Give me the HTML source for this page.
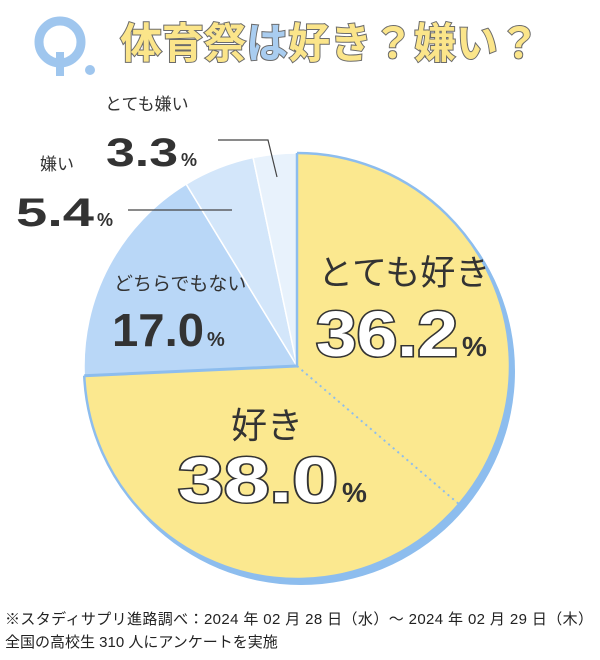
<!DOCTYPE html>
<html><head><meta charset="utf-8"><style>
body{margin:0;width:600px;height:660px;background:#fff;overflow:hidden;font-family:"Liberation Sans","Noto Sans CJK JP",sans-serif}
svg{display:block}
</style></head><body>
<svg width="600" height="660" viewBox="0 0 600 660">
<g>
<circle cx="60" cy="42" r="21" fill="none" stroke="#9fc6ee" stroke-width="9"/>
<rect x="56" y="52" width="8" height="24" fill="#9fc6ee"/>
<circle cx="90" cy="70" r="5" fill="#9fc6ee"/>
<text x="120" y="58" font-size="42" font-weight="bold" fill="#fbe58a" stroke="#6b6b6b" stroke-width="2" paint-order="stroke" font-family="'Noto Sans CJK JP',sans-serif" textLength="420">体育祭<tspan fill="#a9cdf0">は</tspan>好き？嫌い？</text>
</g>
<g id="pie"></g>
<g stroke="#444" stroke-width="1.2" fill="none">
<polyline points="218,140 268,140 277,177"/>
<line x1="128" y1="210" x2="232" y2="210"/>
</g>
<g font-family="'Noto Sans CJK JP',sans-serif" fill="#333">
<text x="105" y="110" font-size="17">とても嫌い</text>
<text x="106" y="166" font-size="40" font-weight="bold" font-family="'Liberation Sans',sans-serif"><tspan textLength="72" lengthAdjust="spacingAndGlyphs">3.3</tspan><tspan font-size="18" dx="3">%</tspan></text>
<text x="40" y="170" font-size="17">嫌い</text>
<text x="16" y="226" font-size="40" font-weight="bold" font-family="'Liberation Sans',sans-serif"><tspan textLength="78" lengthAdjust="spacingAndGlyphs">5.4</tspan><tspan font-size="18" dx="3">%</tspan></text>
<text x="114" y="290" font-size="19">どちらでもない</text>
<text x="112" y="346" font-size="46" font-weight="bold" font-family="'Liberation Sans',sans-serif"><tspan textLength="92" lengthAdjust="spacingAndGlyphs">17.0</tspan><tspan font-size="20" dx="3">%</tspan></text>
<text x="318" y="285" font-size="35">とても好き</text>
<text x="316" y="356" font-size="64" font-weight="bold" fill="#fff" stroke="#333" stroke-width="3" paint-order="stroke" font-family="'Liberation Sans',sans-serif"><tspan textLength="142" lengthAdjust="spacingAndGlyphs">36.2</tspan><tspan font-size="28" fill="#333" stroke="none" dx="4">%</tspan></text>
<text x="231" y="438" font-size="36">好き</text>
<text x="178" y="502" font-size="64" font-weight="bold" fill="#fff" stroke="#333" stroke-width="3" paint-order="stroke" font-family="'Liberation Sans',sans-serif"><tspan textLength="160" lengthAdjust="spacingAndGlyphs">38.0</tspan><tspan font-size="28" fill="#333" stroke="none" dx="4">%</tspan></text>
</g>
<g font-size="15" fill="#222">
<text x="5" y="624" textLength="588">※スタディサプリ進路調べ：2024 年 02 月 28 日（水）～ 2024 年 02 月 29 日（木）</text>
<text x="5" y="647">全国の高校生 310 人にアンケートを実施</text>
</g>
</svg>
<script>
const categories=["とても好き","好き","どちらでもない","嫌い","とても嫌い"];
const values=[36.2,38.0,17.0,5.4,3.3];
const colors=["#fbe88f","#fbe88f","#b9d7f7","#d3e6fa","#e8f2fc"];
const slugs=["very-like","like","neutral","dislike","very-dislike"];
const cx=297,cy=366,r=213;
const g=document.getElementById('pie');
const NS="http://www.w3.org/2000/svg";
const total=values.reduce((a,b)=>a+b,0);
function pt(a,rr){return [cx+rr*Math.sin(a),cy-rr*Math.cos(a)];}
const sh=document.createElementNS(NS,'circle');
sh.setAttribute('cx',cx+4);sh.setAttribute('cy',cy+5);sh.setAttribute('r',r+1);sh.setAttribute('fill','#8dbdee');


g.appendChild(sh);
let a=0;const angles=[];
values.forEach((v,i)=>{
 const a2=a+v/total*2*Math.PI;
 const p1=pt(a,r),p2=pt(a2,r);
 const p=document.createElementNS(NS,'path');
 p.setAttribute('d',`M${cx},${cy}L${p1[0]},${p1[1]}A${r},${r} 0 ${a2-a>Math.PI?1:0} 1 ${p2[0]},${p2[1]}Z`);
 p.setAttribute('fill',colors[i]);
 p.setAttribute('stroke',i<2?'none':'#fff');
 p.setAttribute('stroke-width','1.5');
 
 
 g.appendChild(p);
 angles.push(a2);a=a2;
});
// outer border arc around yellow slices
const e0=pt(0,r),e1=pt(angles[1],r);
const arc=document.createElementNS(NS,'path');
arc.setAttribute('d',`M${e0[0]},${e0[1]}A${r},${r} 0 1 1 ${e1[0]},${e1[1]}`);
arc.setAttribute('fill','none');arc.setAttribute('stroke','#8dbdee');arc.setAttribute('stroke-width','2.5');


g.appendChild(arc);
const d1=pt(angles[0],r);
const dl=document.createElementNS(NS,'line');
dl.setAttribute('x1',cx);dl.setAttribute('y1',cy);dl.setAttribute('x2',d1[0]);dl.setAttribute('y2',d1[1]);
dl.setAttribute('stroke','#8dbdee');dl.setAttribute('stroke-width','2');dl.setAttribute('stroke-dasharray','2 4');


g.appendChild(dl);
const d2=pt(angles[1],r);
const sl=document.createElementNS(NS,'line');
sl.setAttribute('x1',cx);sl.setAttribute('y1',cy);sl.setAttribute('x2',d2[0]);sl.setAttribute('y2',d2[1]);
sl.setAttribute('stroke','#8dbdee');sl.setAttribute('stroke-width','3');


g.appendChild(sl);
const tl=document.createElementNS(NS,'line');
tl.setAttribute('x1',cx);tl.setAttribute('y1',cy);tl.setAttribute('x2',e0[0]);tl.setAttribute('y2',e0[1]);
tl.setAttribute('stroke','#8dbdee');tl.setAttribute('stroke-width','2.5');


g.appendChild(tl);
</script>
</body></html>
